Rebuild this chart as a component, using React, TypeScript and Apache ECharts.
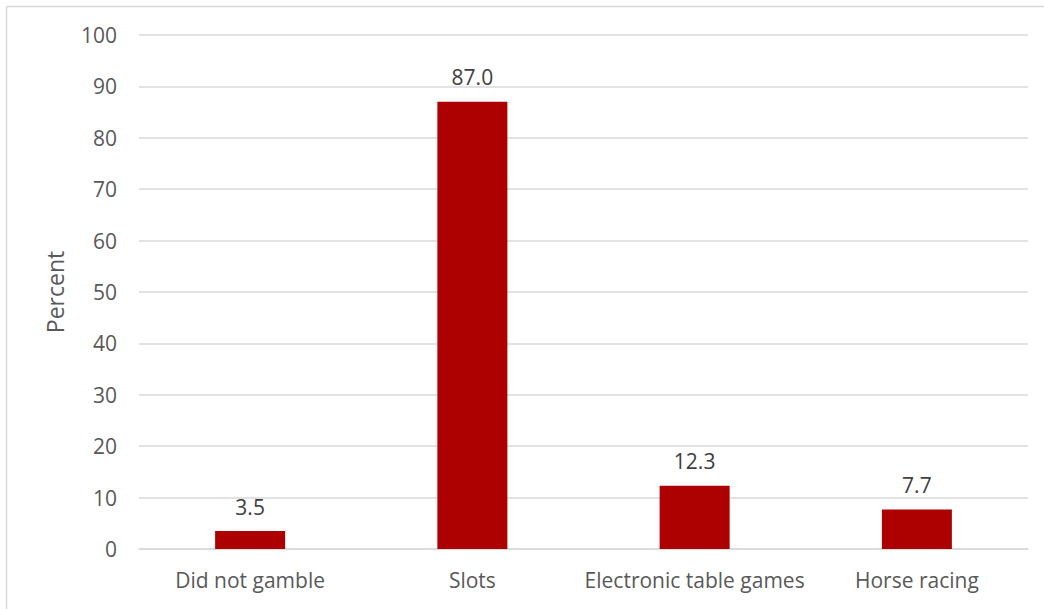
import React, { useEffect, useRef } from "react";
import * as echarts from "echarts";

const categories = ["Did not gamble", "Slots", "Electronic table games", "Horse racing"];
const values = [3.5, 87.0, 12.3, 7.7];
const yTicks = { min: 0, max: 100, interval: 10 };

export default function App() {
  const ref = useRef<HTMLDivElement>(null);
  useEffect(() => {
    const chart = echarts.init(ref.current!, null, { renderer: "svg" });
    const font = "'Open Sans', 'Noto Sans', sans-serif";
    chart.setOption({
      animation: false,
      backgroundColor: "#ffffff",
      grid: { left: 139, right: 16, top: 35, bottom: 60 },
      graphic: [
        { type: "line", shape: { x1: 6.5, y1: 6.5, x2: 1044, y2: 6.5 }, style: { stroke: "#d9d9d9", lineWidth: 1.5 } },
        { type: "line", shape: { x1: 6.5, y1: 6.5, x2: 6.5, y2: 609 }, style: { stroke: "#d9d9d9", lineWidth: 1.5 } },
      ],
      xAxis: {
        type: "category",
        data: categories,
        axisLine: { show: true, lineStyle: { color: "#d9d9d9", width: 1.5 } },
        axisTick: { show: false },
        axisLabel: { color: "#595959", fontSize: 21, fontFamily: font, margin: 20, interval: 0 },
      },
      yAxis: {
        type: "value",
        min: yTicks.min,
        max: yTicks.max,
        interval: yTicks.interval,
        name: "Percent",
        nameLocation: "middle",
        nameRotate: 90,
        nameGap: 73,
        nameTextStyle: { color: "#595959", fontSize: 23, fontFamily: font },
        axisLine: { show: false },
        axisTick: { show: false },
        splitLine: { lineStyle: { color: "#d9d9d9", width: 1.5 } },
        axisLabel: { color: "#595959", fontSize: 21, fontFamily: font, margin: 22 },
      },
      series: [
        {
          type: "bar",
          data: values,
          barWidth: "31.5%",
          itemStyle: { color: "#ad0000" },
          label: {
            show: true,
            position: "top",
            distance: 14,
            color: "#404040",
            fontSize: 21,
            fontFamily: font,
            formatter: (p: any) => Number(p.value).toFixed(1),
          },
        },
      ],
    });
    return () => chart.dispose();
  }, []);
  return <div ref={ref} style={{ position: "absolute", left: 0, top: 0, width: 1044, height: 609 }} />;
}
